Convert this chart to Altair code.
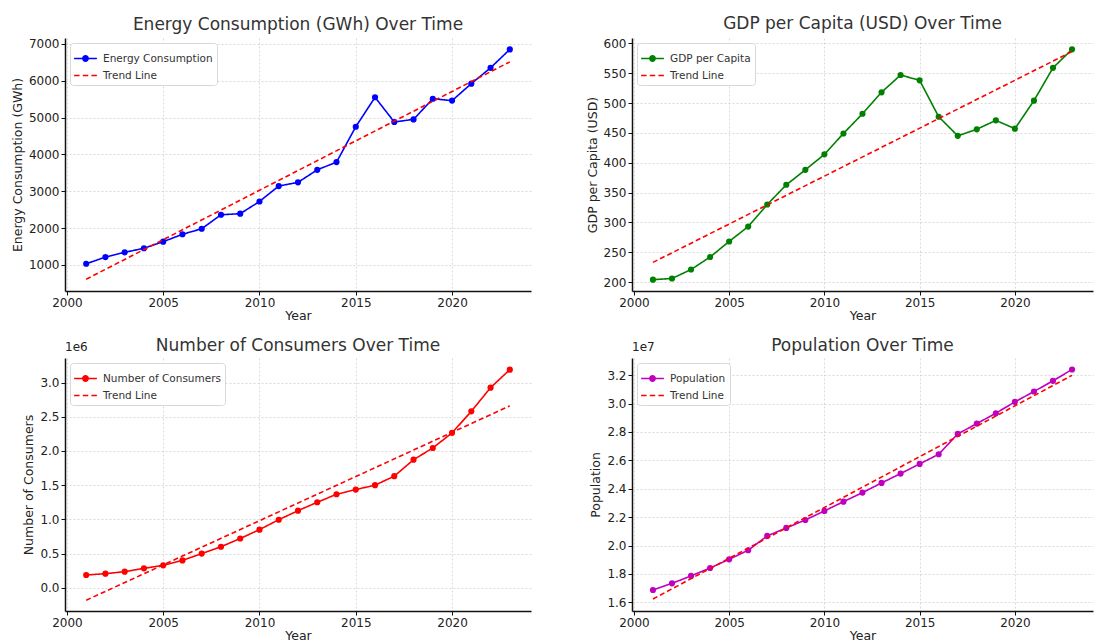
import altair as alt
import pandas as pd

years = list(range(2001, 2024))
energy = [1030, 1210, 1340, 1450, 1630, 1830, 1980, 2360, 2390, 2720, 3140, 3240,
          3580, 3790, 4750, 5550, 4880, 4950, 5510, 5460, 5920, 6350, 6850]
gdp = [204, 206, 221, 242, 268, 293, 330, 363, 388, 414, 449, 482,
       518, 547, 538, 477, 445, 456, 471, 457, 504, 559, 590]
consumers = [186000, 206000, 235000, 284000, 328000, 400000, 500000, 600000, 720000,
             850000, 995000, 1127000, 1250000, 1367000, 1436000, 1500000, 1632000,
             1873000, 2044000, 2265000, 2580000, 2926000, 3190000]
population = [16870000, 17340000, 17860000, 18420000, 19030000, 19670000, 20680000,
              21240000, 21800000, 22440000, 23090000, 23730000, 24410000, 25070000,
              25750000, 26430000, 27860000, 28590000, 29320000, 30120000, 30850000,
              31600000, 32400000]
x_ticks = [2000, 2005, 2010, 2015, 2020]

df = pd.DataFrame({"Year": years, "Energy": energy, "GDP": gdp,
                   "Consumers": consumers, "Population": population})

FONT = "DejaVu Sans"
H = 253

# legend glyphs: solid line with a dot, and a dashed line (filled paths)
LINE_DOT = ("M-1,-0.07H1V0.07H-1Z"
            "M-0.3,0A0.3,0.3,0,1,1,0.3,0A0.3,0.3,0,1,1,-0.3,0Z")
DASHED = ("M-1,-0.07H-0.52V0.07H-1Z"
          "M-0.24,-0.07H0.24V0.07H-0.24Z"
          "M0.52,-0.07H1V0.07H0.52Z")


def panel(col, label, color, title, ytitle, ydomain, yticks, width,
          label_expr=None, exp_text=None):
    dom = [label, "Trend Line"]
    cscale = alt.Scale(domain=dom, range=[color, "red"])
    dscale = alt.Scale(domain=dom, range=[[1, 0], [5, 3]])
    sscale = alt.Scale(domain=dom, range=[LINE_DOT, DASHED])
    leg = alt.Legend(title=None, orient="top-left", offset=5,
                     symbolSize=520, symbolStrokeWidth=0, symbolOpacity=1,
                     labelFont=FONT, labelFontSize=10.5, labelColor="#333",
                     fillColor="white", strokeColor="#d8d8d8", padding=4,
                     cornerRadius=3, rowPadding=0, labelOffset=6)
    xenc = alt.X("Year:Q", scale=alt.Scale(domain=[1999.9, 2024.1], nice=False, zero=False),
                 axis=alt.Axis(values=x_ticks, tickCount=20, format="d", title="Year",
                               labelOverlap=False, titlePadding=1))
    if label_expr:
        yaxis = alt.Axis(values=yticks, tickCount=30, title=ytitle, labelExpr=label_expr,
                         labelOverlap=False)
    else:
        yaxis = alt.Axis(values=yticks, tickCount=30, title=ytitle, format="d",
                         labelOverlap=False)
    yenc = alt.Y(f"{col}:Q", scale=alt.Scale(domain=ydomain, nice=False, zero=False), axis=yaxis)
    base = alt.Chart(df).transform_calculate(series=f"'{label}'")
    key = base.transform_filter("false").mark_point(filled=True, opacity=1).encode(
        x=xenc, y=yenc,
        color=alt.Color("series:N", scale=cscale, legend=leg),
        shape=alt.Shape("series:N", scale=sscale, legend=leg))
    line = base.mark_line(strokeWidth=1.6).encode(
        x="Year:Q", y=f"{col}:Q",
        color=alt.Color("series:N", scale=cscale, legend=None),
        strokeDash=alt.StrokeDash("series:N", scale=dscale, legend=None))
    pts = base.mark_circle(size=38, opacity=1).encode(
        x="Year:Q", y=f"{col}:Q", color=alt.Color("series:N", scale=cscale, legend=None))
    trend = alt.Chart(df).transform_regression("Year", col).transform_calculate(
        series="'Trend Line'").mark_line(strokeWidth=1.6).encode(
        x="Year:Q", y=f"{col}:Q",
        color=alt.Color("series:N", scale=cscale, legend=None),
        strokeDash=alt.StrokeDash("series:N", scale=dscale, legend=None))
    layers = [key, line, pts, trend]
    toff = 4
    if exp_text:
        t = alt.Chart(pd.DataFrame({"t": [exp_text]})).mark_text(
            align="left", baseline="bottom", font=FONT, fontSize=12, color="#222").encode(
            x=alt.value(0), y=alt.value(-4), text="t:N")
        layers.append(t)
        toff = -14
    return alt.layer(*layers).properties(
        width=width, height=H,
        title=alt.TitleParams(title, font=FONT, fontSize=17, fontWeight="normal",
                              color="#333", anchor="middle", offset=toff))


p1 = panel("Energy", "Energy Consumption", "blue", "Energy Consumption (GWh) Over Time",
           "Energy Consumption (GWh)", [290, 7160], [1000, 2000, 3000, 4000, 5000, 6000, 7000],
           466)
p2 = panel("GDP", "GDP per Capita", "green", "GDP per Capita (USD) Over Time",
           "GDP per Capita (USD)", [185, 609], [200, 250, 300, 350, 400, 450, 500, 550, 600],
           461)
p3 = panel("Consumers", "Number of Consumers", "red", "Number of Consumers Over Time",
           "Number of Consumers", [-340000, 3360000],
           [0, 500000, 1000000, 1500000, 2000000, 2500000, 3000000], 466,
           label_expr="format(datum.value / 1e6, '.1f')", exp_text="1e6")
p4 = panel("Population", "Population", "#bf00bf", "Population Over Time",
           "Population", [15390000, 33210000],
           [16000000, 18000000, 20000000, 22000000, 24000000, 26000000, 28000000, 30000000, 32000000],
           461, label_expr="format(datum.value / 1e7, '.1f')", exp_text="1e7")

chart = alt.concat(p1, p2, p3, p4, columns=2, spacing={"row": 14, "column": 53}).resolve_scale(
    color="independent", strokeDash="independent", shape="independent"
).properties(
    padding={"left": 2, "top": 6, "right": 5, "bottom": 0}
).configure_axis(
    labelFont=FONT, labelFontSize=12, labelColor="#222", labelPadding=2,
    titleFont=FONT, titleFontSize=12.5, titleFontWeight="normal", titleColor="#222",
    titlePadding=4, gridColor="#d0d0d0", gridDash=[2, 2], gridWidth=0.8,
    domainColor="#111", domainWidth=1.5, tickColor="#111", tickSize=4
).configure_view(stroke="transparent")

chart.save("out.html", embed_options={"renderer": "svg", "actions": False})
